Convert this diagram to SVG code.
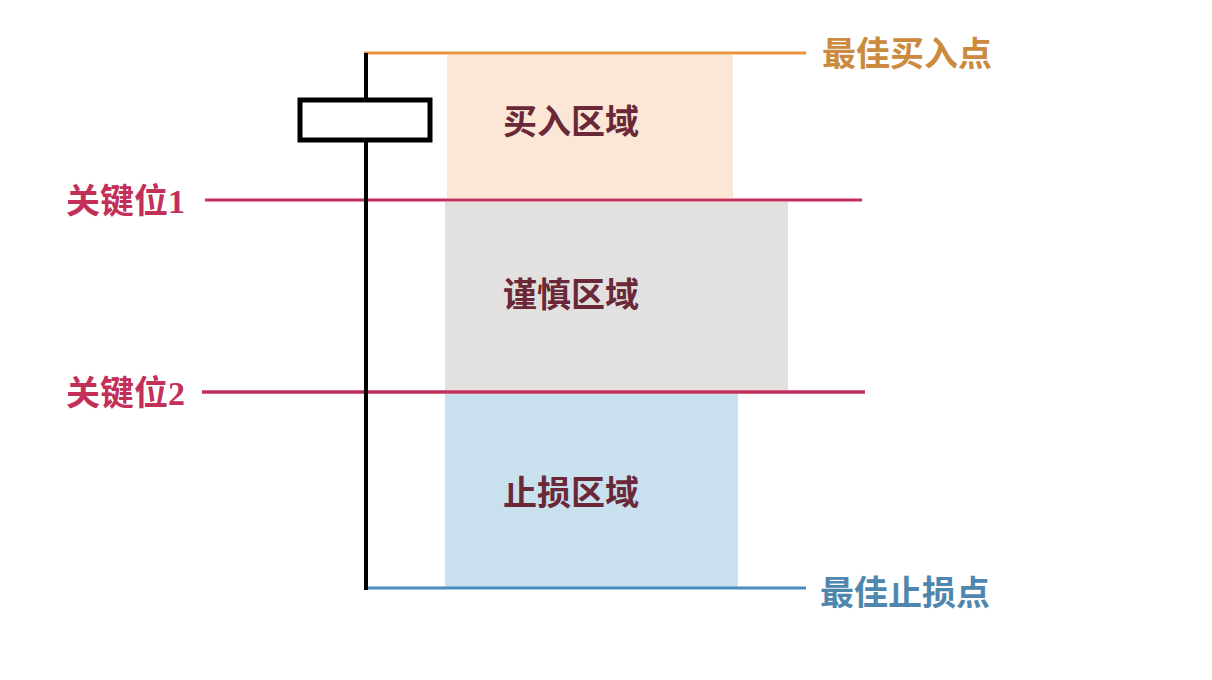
<svg xmlns="http://www.w3.org/2000/svg" width="1212" height="680" viewBox="0 0 1212 680">
<style>
.t{font-family:"Liberation Serif","Noto Sans CJK SC",serif;font-weight:bold;font-size:34px;dominant-baseline:central}
.z{fill:#6b2838;text-anchor:middle}
.k{fill:#c2305a}
</style>
<rect width="1212" height="680" fill="#ffffff"/>
<g id="buy-zone"><rect x="447" y="55" width="286" height="143" fill="#fce7d6"/><text class="t z" x="571" y="122">买入区域</text></g>
<g id="caution-zone"><rect x="445" y="202" width="343" height="188" fill="#e3e1df"/><text class="t z" x="571" y="295">谨慎区域</text></g>
<g id="stop-zone"><rect x="445" y="394" width="293" height="193" fill="#c9e0ee"/><text class="t z" x="571" y="493">止损区域</text></g>
<g id="connectors">
<line x1="364" y1="53" x2="806" y2="53" stroke="#e8953e" stroke-width="3"/>
<line x1="205" y1="200" x2="862" y2="200" stroke="#c2305a" stroke-width="3"/>
<line x1="202" y1="392" x2="865" y2="392" stroke="#c2305a" stroke-width="3.5"/>
<line x1="364" y1="588" x2="806" y2="588" stroke="#4a8cc0" stroke-width="3"/>
<line x1="366" y1="53" x2="366" y2="590" stroke="#000" stroke-width="4"/>
</g>
<g id="candle"><rect x="300" y="100" width="130" height="40" fill="#fff" stroke="#000" stroke-width="5"/></g>
<g id="best-buy"><text class="t" x="822" y="54" fill="#cc8a3e">最佳买入点</text></g>
<g id="key1"><text class="t k" x="66" y="201">关键位1</text></g>
<g id="key2"><text class="t k" x="66" y="393">关键位2</text></g>
<g id="best-stop"><text class="t" x="820" y="593" fill="#4f86ad">最佳止损点</text></g>
</svg>
